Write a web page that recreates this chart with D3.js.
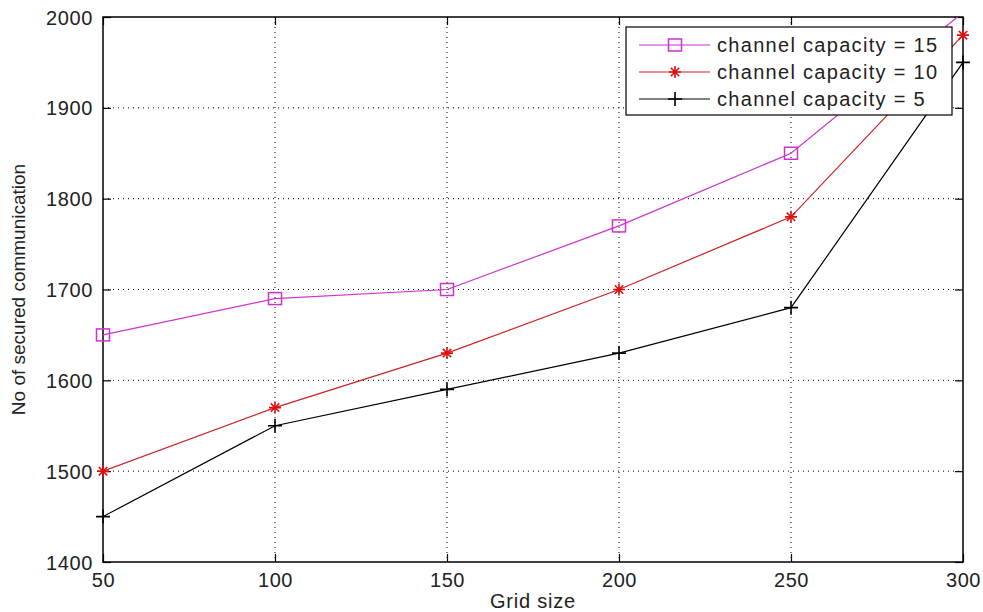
<!DOCTYPE html>
<html>
<head>
<meta charset="utf-8">
<script src="https://cdn.jsdelivr.net/npm/d3@7"></script>
<style>
  body { margin: 0; background: #fff; }
  svg { display: block; }
  text { font-family: "Liberation Sans", Arial, sans-serif; fill: #222; }
</style>
</head>
<body>
<svg id="chart" width="983" height="612"></svg>
<script>
const gridSizes = [50, 100, 150, 200, 250, 300];
const cap15 = [1650, 1690, 1700, 1770, 1850, 2005];
const cap10 = [1500, 1570, 1630, 1700, 1780, 1980];
const cap5  = [1450, 1550, 1590, 1630, 1680, 1950];
const xTicks = [50, 100, 150, 200, 250, 300];
const yTicks = [1400, 1500, 1600, 1700, 1800, 1900, 2000];
const seriesNames = ["channel capacity = 15", "channel capacity = 10", "channel capacity = 5"];

const series = [
  { name: seriesNames[0], values: cap15, color: "#cc33cc", marker: "square" },
  { name: seriesNames[1], values: cap10, color: "#cc2222", markerColor: "#e01010", marker: "star" },
  { name: seriesNames[2], values: cap5,  color: "#000000", marker: "plus" }
];

const svg = d3.select("#chart");
const L = 103, R = 963, T = 17, B = 562;
const x = d3.scaleLinear().domain([50, 300]).range([L, R]);
const y = d3.scaleLinear().domain([1400, 2000]).range([B, T]);

svg.append("defs").append("clipPath").attr("id", "plotclip")
  .append("rect").attr("x", L).attr("y", T).attr("width", R - L).attr("height", B - T);

// grid
const grid = svg.append("g");
grid.selectAll(".gx").data(xTicks.slice(1, -1)).join("line")
  .attr("x1", d => x(d)).attr("x2", d => x(d)).attr("y1", T).attr("y2", B)
  .attr("stroke", "#000").attr("stroke-width", 1).attr("stroke-dasharray", "1,4");
grid.selectAll(".gy").data(yTicks.slice(1, -1)).join("line")
  .attr("y1", d => y(d)).attr("y2", d => y(d)).attr("x1", L).attr("x2", R)
  .attr("stroke", "#000").attr("stroke-width", 1).attr("stroke-dasharray", "1,4");

// axes with inward ticks
const tickLen = 8;
const axB = svg.append("g").attr("transform", `translate(0,${B})`)
  .call(d3.axisBottom(x).tickValues(xTicks).tickSize(-tickLen).tickPadding(11).tickFormat(d3.format("d")));
const axT = svg.append("g").attr("transform", `translate(0,${T})`)
  .call(d3.axisTop(x).tickValues(xTicks).tickSize(-tickLen).tickFormat(""));
const axL = svg.append("g").attr("transform", `translate(${L},0)`)
  .call(d3.axisLeft(y).tickValues(yTicks).tickSize(-tickLen).tickPadding(10).tickFormat(d3.format("d")));
const axR = svg.append("g").attr("transform", `translate(${R},0)`)
  .call(d3.axisRight(y).tickValues(yTicks).tickSize(-tickLen).tickFormat(""));
[axB, axT, axL, axR].forEach(a => {
  a.select(".domain").remove();
  a.selectAll(".tick line").attr("stroke", "#000").attr("stroke-width", 1.2);
  a.selectAll("text").attr("font-size", 20).attr("fill", "#222")
    .attr("letter-spacing", "0.6px")
    .style("font-family", "'Liberation Sans', Arial, sans-serif");
});
axB.selectAll("text").attr("dy", "0.71em");
axL.selectAll("text").attr("dy", "0.35em");

// box
svg.append("rect").attr("x", L).attr("y", T).attr("width", R - L).attr("height", B - T)
  .attr("fill", "none").attr("stroke", "#000").attr("stroke-width", 1.5);

// marker drawer
function drawMarker(g, type, cx, cy, color) {
  if (type === "square") {
    g.append("rect").attr("x", cx - 6.5).attr("y", cy - 6).attr("width", 13).attr("height", 12)
      .attr("fill", "none").attr("stroke", color).attr("stroke-width", 1.5);
  } else if (type === "star") {
    const r = 6;
    const path = `M${cx - r},${cy}H${cx + r}M${cx},${cy - r}V${cy + r}` +
      `M${cx - r * 0.7},${cy - r * 0.7}L${cx + r * 0.7},${cy + r * 0.7}` +
      `M${cx - r * 0.7},${cy + r * 0.7}L${cx + r * 0.7},${cy - r * 0.7}`;
    g.append("path").attr("d", path).attr("stroke", color).attr("stroke-width", 1.6).attr("fill", "none");
  } else {
    const r = 7;
    g.append("path").attr("d", `M${cx - r},${cy}H${cx + r}M${cx},${cy - r}V${cy + r}`)
      .attr("stroke", color).attr("stroke-width", 1.6).attr("fill", "none");
  }
}

const line = d3.line().x((d, i) => x(gridSizes[i])).y(d => y(d));
series.forEach(s => {
  const g = svg.append("g");
  g.append("path").datum(s.values).attr("d", line).attr("clip-path", "url(#plotclip)")
    .attr("fill", "none").attr("stroke", s.color).attr("stroke-width", 1.2);
  s.values.forEach((v, i) => {
    if (v >= 1400 && v <= 2000) drawMarker(g, s.marker, x(gridSizes[i]), y(v), s.markerColor || s.color);
  });
});

// legend
const lg = svg.append("g");
const lgX = 626, lgY = 27, lgW = 326, lgH = 88;
lg.append("rect").attr("x", lgX).attr("y", lgY).attr("width", lgW).attr("height", lgH)
  .attr("fill", "#fff").attr("stroke", "#000").attr("stroke-width", 1.2);
const rowY = [45, 72, 99];
series.forEach((s, i) => {
  const yy = rowY[i];
  lg.append("line").attr("x1", 639).attr("x2", 710).attr("y1", yy).attr("y2", yy)
    .attr("stroke", s.color).attr("stroke-width", 1.2);
  drawMarker(lg, s.marker, 675, yy, s.markerColor || s.color);
  lg.append("text").attr("x", 717).attr("y", yy).attr("dy", "0.35em")
    .attr("font-size", 20).attr("letter-spacing", "1.3px").text(s.name);
});

// axis labels
svg.append("text").attr("x", (L + R) / 2).attr("y", 608).attr("text-anchor", "middle")
  .attr("font-size", 20).attr("letter-spacing", "0.8px").text("Grid size");
svg.append("text").attr("transform", `translate(25,${(T + B) / 2}) rotate(-90)`)
  .attr("text-anchor", "middle").attr("font-size", 19).text("No of secured communication");
</script>
</body>
</html>
